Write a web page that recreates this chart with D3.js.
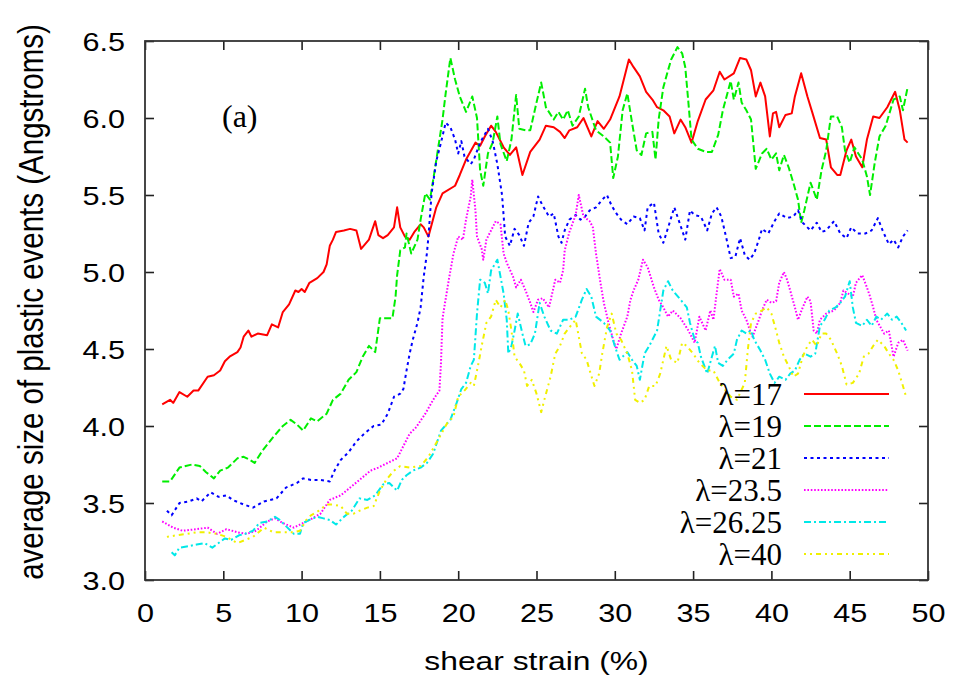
<!DOCTYPE html>
<html>
<head>
<meta charset="utf-8">
<script src="https://cdn.jsdelivr.net/npm/d3@7"></script>
<style>
  body { margin: 0; background: #fff; }
  svg { display: block; }
</style>
</head>
<body>
<svg id="chart" width="953" height="677"></svg>
<script>
// series data: [shear strain %, avg size (Angstroms)]
const lam17 = [[1.1,4.14],[1.6,4.17],[1.8,4.15],[2.2,4.22],[2.7,4.19],[3.1,4.23],[3.4,4.23],[4.0,4.32],[4.4,4.33],[4.8,4.36],
  [5.1,4.42],[5.4,4.45],[5.9,4.48],[6.1,4.51],[6.3,4.58],[6.6,4.62],[6.8,4.58],[7.2,4.60],[7.8,4.59],[8.1,4.66],
  [8.5,4.64],[8.8,4.74],[9.2,4.79],[9.6,4.88],[9.8,4.87],[10.0,4.89],[10.2,4.87],[10.5,4.93],[11.0,4.96],[11.4,5.00],
  [11.6,5.05],[11.8,5.17],[12.0,5.21],[12.2,5.26],[12.7,5.27],[13.1,5.28],[13.5,5.27],[13.8,5.15],[14.3,5.21],[14.7,5.33],
  [14.9,5.24],[15.2,5.22],[15.5,5.24],[15.9,5.29],[16.1,5.42],[16.3,5.29],[16.6,5.23],[16.9,5.21],[17.2,5.26],[17.6,5.31],
  [17.8,5.29],[18.1,5.23],[18.6,5.42],[19.0,5.51],[19.8,5.56],[20.1,5.63],[20.5,5.73],[21.1,5.84],[21.4,5.82],[21.7,5.88],
  [22.1,5.95],[22.4,5.91],[22.9,5.81],[23.3,5.76],[23.7,5.81],[24.1,5.63],[24.6,5.78],[25.2,5.86],[25.6,5.95],[26.1,5.94],
  [26.5,5.91],[26.8,5.87],[27.1,5.92],[27.6,5.94],[28.0,6.00],[28.5,5.88],[28.9,5.98],[29.3,5.93],[29.7,5.99],[30.3,6.14],
  [30.9,6.38],[31.2,6.33],[31.6,6.27],[32.0,6.17],[32.4,6.12],[32.7,6.07],[33.1,6.05],[33.5,6.01],[33.8,5.90],[34.2,5.99],
  [34.5,5.94],[34.9,5.84],[35.3,5.98],[35.8,6.12],[36.3,6.18],[36.7,6.30],[37.0,6.25],[37.6,6.29],[38.0,6.39],[38.4,6.38],
  [38.7,6.31],[39.0,6.14],[39.3,6.23],[39.6,6.14],[39.9,5.88],[40.1,6.03],[40.3,6.04],[40.5,5.94],[40.9,6.02],[41.3,6.03],
  [41.5,6.14],[41.9,6.29],[42.3,6.14],[42.6,6.04],[43.1,5.87],[43.5,5.86],[43.8,5.68],[44.2,5.63],[44.4,5.63],[44.8,5.79],
  [45.1,5.86],[45.4,5.75],[45.8,5.68],[46.1,5.86],[46.5,6.01],[46.9,6.00],[47.4,6.07],[47.9,6.17],[48.2,6.05],[48.5,5.86],[48.7,5.84]];

const lam19 = [[1.1,3.64],[1.6,3.64],[2.2,3.73],[2.6,3.74],[3.0,3.75],[3.5,3.74],[3.9,3.70],[4.4,3.66],[4.8,3.71],[5.3,3.73],
  [5.9,3.79],[6.3,3.80],[6.7,3.78],[7.0,3.76],[7.5,3.84],[8.2,3.93],[8.8,4.00],[9.3,4.04],[9.7,4.01],[10.1,3.97],
  [10.6,4.05],[11.0,4.03],[11.6,4.08],[12.0,4.17],[12.5,4.21],[13.0,4.30],[13.5,4.35],[13.9,4.45],[14.3,4.52],[14.7,4.48],
  [15.0,4.70],[15.4,4.70],[15.8,4.70],[16.0,4.84],[16.1,4.98],[16.3,5.14],[16.6,5.16],[16.7,5.25],[17.0,5.12],[17.4,5.21],
  [17.6,5.34],[17.9,5.51],[18.2,5.47],[18.5,5.66],[19.0,5.99],[19.2,6.16],[19.5,6.39],[19.8,6.25],[20.1,6.14],[20.5,6.04],
  [20.9,6.14],[21.2,6.00],[21.4,5.66],[21.6,5.56],[21.9,5.77],[22.2,5.84],[22.5,6.01],[22.7,5.83],[23.1,5.72],[23.4,5.86],
  [23.7,6.15],[23.9,5.93],[24.3,5.92],[24.6,5.92],[25.0,6.10],[25.3,6.23],[25.6,6.07],[26.1,5.99],[26.4,6.04],[26.7,5.99],
  [27.0,6.05],[27.3,5.95],[27.7,6.01],[28.1,6.19],[28.3,6.07],[28.5,6.01],[28.8,5.92],[29.3,5.88],[29.7,5.84],[29.9,5.61],
  [30.2,5.75],[30.5,6.05],[30.8,6.16],[31.1,5.97],[31.4,5.79],[31.7,5.76],[32.0,5.90],[32.4,5.91],[32.6,5.73],[32.8,5.99],
  [33.1,6.20],[33.4,6.31],[33.6,6.38],[34.0,6.46],[34.3,6.42],[34.5,6.33],[34.7,6.10],[34.9,5.86],[35.3,5.80],[35.8,5.78],
  [36.2,5.78],[36.6,5.89],[36.9,6.05],[37.4,6.24],[37.6,6.12],[37.9,6.23],[38.1,6.10],[38.4,6.05],[38.7,5.99],[39.0,5.67],
  [39.4,5.77],[39.7,5.80],[40.0,5.73],[40.3,5.77],[40.5,5.66],[40.8,5.76],[41.1,5.68],[41.4,5.58],[41.7,5.47],[41.9,5.32],
  [42.1,5.40],[42.5,5.58],[42.9,5.47],[43.2,5.66],[43.5,5.79],[43.8,6.01],[44.2,6.01],[44.5,5.94],[44.7,5.79],[45.0,5.71],
  [45.3,5.81],[45.8,5.73],[46.1,5.62],[46.3,5.50],[46.6,5.71],[46.9,5.88],[47.3,5.95],[47.8,6.12],[48.2,6.14],[48.4,6.05],[48.7,6.20]];

const lam21 = [[1.4,3.45],[1.7,3.42],[2.2,3.50],[2.8,3.51],[3.3,3.53],[3.6,3.51],[4.2,3.57],[4.7,3.54],[5.2,3.55],[5.6,3.52],
  [6.3,3.49],[6.9,3.47],[7.6,3.51],[8.4,3.53],[9.0,3.60],[9.7,3.63],[10.1,3.66],[10.6,3.65],[11.2,3.65],[11.8,3.64],
  [12.1,3.71],[12.5,3.78],[13.0,3.83],[13.5,3.90],[14.0,3.95],[14.6,4.00],[15.1,4.01],[15.5,4.08],[15.9,4.19],[16.3,4.21],
  [16.5,4.24],[16.7,4.36],[16.9,4.47],[17.1,4.56],[17.4,4.67],[17.6,4.77],[17.8,4.97],[18.0,5.12],[18.1,5.23],[18.3,5.51],
  [18.6,5.72],[18.9,5.84],[19.2,5.97],[19.5,5.94],[19.8,5.86],[20.0,5.77],[20.2,5.85],[20.4,5.75],[20.8,5.70],[21.0,5.73],
  [21.4,5.84],[21.9,5.93],[22.2,5.85],[22.5,5.70],[22.8,5.50],[23.0,5.23],[23.3,5.17],[23.6,5.28],[23.9,5.24],[24.2,5.17],
  [24.5,5.32],[24.8,5.36],[25.1,5.49],[25.4,5.43],[25.8,5.36],[26.1,5.38],[26.4,5.23],[26.6,5.19],[26.8,5.27],[27.1,5.34],
  [27.5,5.37],[27.8,5.34],[28.1,5.36],[28.4,5.40],[28.8,5.42],[29.2,5.47],[29.5,5.50],[29.8,5.43],[30.1,5.38],[30.4,5.34],
  [30.8,5.31],[31.2,5.36],[31.6,5.35],[31.9,5.27],[32.1,5.42],[32.5,5.45],[32.8,5.25],[33.1,5.19],[33.5,5.32],[33.8,5.42],
  [34.2,5.30],[34.5,5.21],[34.8,5.40],[35.1,5.37],[35.5,5.36],[35.9,5.27],[36.2,5.38],[36.5,5.42],[36.8,5.36],[37.1,5.23],
  [37.4,5.09],[37.7,5.10],[38.0,5.22],[38.3,5.11],[38.6,5.08],[38.9,5.12],[39.2,5.21],[39.4,5.28],[39.8,5.25],[40.2,5.33],
  [40.5,5.38],[41.0,5.35],[41.4,5.36],[41.7,5.40],[42.0,5.32],[42.5,5.27],[42.9,5.32],[43.2,5.26],[43.5,5.27],[44.0,5.33],
  [44.4,5.25],[44.8,5.22],[45.1,5.29],[45.5,5.25],[46.0,5.25],[46.4,5.27],[46.8,5.35],[47.1,5.27],[47.5,5.18],[47.8,5.21],
  [48.1,5.16],[48.4,5.23],[48.7,5.27]];

const lam23_5 = [[1.1,3.38],[1.8,3.34],[2.4,3.32],[3.3,3.33],[4.0,3.34],[4.6,3.30],[5.2,3.33],[5.9,3.31],[6.5,3.30],[7.1,3.32],
  [7.8,3.38],[8.3,3.40],[8.8,3.37],[9.5,3.34],[9.9,3.36],[10.5,3.39],[11.2,3.43],[11.8,3.52],[12.5,3.55],[13.1,3.60],
  [13.7,3.65],[14.4,3.71],[14.9,3.73],[15.5,3.76],[16.1,3.79],[16.5,3.87],[16.9,3.95],[17.3,3.99],[17.9,4.08],[18.4,4.17],
  [18.8,4.23],[18.9,4.41],[19.0,4.70],[19.4,4.95],[19.7,5.12],[20.0,5.23],[20.3,5.21],[20.5,5.34],[20.8,5.49],[20.9,5.60],
  [21.1,5.40],[21.2,5.23],[21.5,5.15],[21.6,5.08],[21.8,5.21],[22.1,5.27],[22.4,5.33],[22.7,5.31],[22.9,5.12],[23.1,5.06],
  [23.5,4.97],[23.7,4.90],[24.0,4.95],[24.3,4.88],[24.6,4.80],[24.8,4.74],[25.1,4.82],[25.4,4.83],[25.8,4.77],[26.2,4.95],
  [26.5,4.93],[26.7,5.01],[26.8,5.14],[27.1,5.26],[27.5,5.37],[27.7,5.50],[28.0,5.36],[28.4,5.33],[28.6,5.29],[28.8,5.12],
  [29.1,4.92],[29.3,4.80],[29.6,4.67],[29.9,4.56],[30.1,4.50],[30.4,4.60],[30.8,4.71],[31.0,4.82],[31.2,4.88],[31.5,4.95],
  [31.8,5.08],[32.1,5.03],[32.5,4.90],[32.8,4.82],[33.1,4.77],[33.4,4.71],[33.7,4.75],[34.2,4.70],[34.7,4.62],[35.1,4.54],
  [35.4,4.71],[35.8,4.62],[36.1,4.75],[36.3,4.69],[36.5,4.86],[36.7,5.02],[37.0,4.95],[37.4,4.95],[37.6,4.84],[37.9,4.86],
  [38.1,4.75],[38.4,4.69],[38.7,4.60],[38.8,4.58],[39.2,4.69],[39.4,4.75],[39.7,4.82],[40.0,4.80],[40.3,4.81],[40.5,4.93],
  [40.8,5.00],[41.0,4.95],[41.2,4.88],[41.5,4.77],[41.7,4.69],[42.0,4.77],[42.3,4.84],[42.5,4.81],[42.7,4.62],[42.9,4.60],
  [43.1,4.69],[43.5,4.73],[44.0,4.75],[44.4,4.80],[44.6,4.88],[44.9,4.86],[45.2,4.84],[45.4,4.93],[45.8,4.98],[46.1,4.90],
  [46.3,4.84],[46.5,4.77],[46.7,4.69],[47.2,4.60],[47.5,4.62],[47.8,4.45],[48.1,4.54],[48.4,4.56],[48.7,4.49]];

const lam26_25 = [[1.7,3.18],[1.9,3.16],[2.2,3.21],[2.8,3.22],[3.3,3.23],[3.8,3.24],[4.3,3.21],[4.7,3.24],[5.1,3.27],[5.5,3.26],
  [6.0,3.29],[6.4,3.30],[6.9,3.32],[7.3,3.37],[7.8,3.38],[8.3,3.41],[8.6,3.39],[9.0,3.35],[9.5,3.30],[9.9,3.30],
  [10.1,3.37],[10.5,3.39],[11.0,3.41],[11.4,3.40],[11.8,3.39],[12.2,3.36],[12.7,3.41],[13.2,3.45],[13.7,3.53],[14.2,3.52],
  [14.7,3.55],[15.2,3.62],[15.6,3.63],[16.1,3.58],[16.4,3.65],[16.7,3.68],[17.1,3.71],[17.6,3.73],[18.0,3.76],[18.4,3.82],
  [18.9,3.97],[19.5,4.04],[19.9,4.15],[20.2,4.24],[20.5,4.28],[20.8,4.39],[21.0,4.43],[21.2,4.73],[21.4,4.95],[21.7,4.93],
  [21.9,4.86],[22.1,5.01],[22.5,5.08],[22.7,4.97],[22.9,4.86],[23.1,4.69],[23.2,4.47],[23.4,4.52],[23.6,4.62],[23.8,4.73],
  [24.1,4.60],[24.3,4.52],[24.6,4.53],[24.9,4.60],[25.2,4.80],[25.5,4.71],[25.9,4.62],[26.3,4.60],[26.7,4.69],[27.1,4.69],
  [27.5,4.71],[27.9,4.82],[28.2,4.89],[28.5,4.84],[28.8,4.71],[29.3,4.67],[29.7,4.62],[30.0,4.52],[30.3,4.43],[30.8,4.48],
  [31.1,4.43],[31.4,4.39],[31.6,4.30],[31.9,4.47],[32.2,4.52],[32.7,4.62],[33.1,4.88],[33.4,4.94],[33.7,4.88],[34.2,4.82],
  [34.6,4.77],[34.8,4.67],[35.1,4.56],[35.3,4.54],[35.5,4.45],[35.9,4.34],[36.2,4.45],[36.4,4.52],[36.6,4.41],[36.9,4.39],
  [37.2,4.43],[37.6,4.47],[37.8,4.56],[38.1,4.62],[38.4,4.60],[38.7,4.62],[38.9,4.56],[39.3,4.49],[39.6,4.43],[39.9,4.34],
  [40.2,4.28],[40.5,4.32],[40.9,4.30],[41.2,4.34],[41.5,4.36],[41.8,4.43],[42.1,4.47],[42.5,4.45],[42.8,4.47],[43.1,4.65],
  [43.4,4.69],[43.7,4.75],[44.1,4.77],[44.4,4.80],[44.7,4.84],[45.0,4.94],[45.2,4.77],[45.4,4.67],[45.8,4.65],[46.1,4.69],
  [46.4,4.65],[46.7,4.71],[47.0,4.69],[47.4,4.73],[47.7,4.69],[48.0,4.71],[48.3,4.67],[48.6,4.62]];

const lam40 = [[1.4,3.28],[2.0,3.29],[2.7,3.30],[3.3,3.31],[3.9,3.31],[4.6,3.30],[5.2,3.28],[5.9,3.24],[6.4,3.26],[6.9,3.28],
  [7.6,3.34],[8.2,3.31],[8.8,3.31],[9.5,3.31],[9.9,3.32],[10.3,3.39],[10.6,3.42],[11.1,3.45],[11.6,3.49],[12.0,3.49],
  [12.5,3.48],[12.9,3.43],[13.3,3.43],[13.7,3.45],[14.2,3.47],[14.6,3.48],[15.0,3.58],[15.4,3.65],[15.9,3.71],[16.3,3.74],
  [16.9,3.73],[17.6,3.74],[18.1,3.80],[18.6,3.89],[19.3,4.02],[19.7,4.06],[20.0,4.19],[20.4,4.23],[20.8,4.28],[21.0,4.26],
  [21.3,4.41],[21.5,4.52],[21.8,4.67],[22.1,4.71],[22.4,4.82],[22.7,4.77],[23.0,4.82],[23.2,4.75],[23.4,4.62],[23.6,4.45],
  [23.9,4.41],[24.2,4.36],[24.4,4.26],[24.7,4.30],[25.0,4.21],[25.3,4.09],[25.5,4.17],[25.9,4.32],[26.2,4.47],[26.5,4.52],
  [26.8,4.60],[27.1,4.64],[27.5,4.69],[27.7,4.58],[27.9,4.47],[28.2,4.43],[28.4,4.36],[28.7,4.26],[29.0,4.34],[29.2,4.47],
  [29.5,4.64],[29.8,4.73],[30.1,4.60],[30.4,4.56],[30.8,4.47],[31.1,4.36],[31.3,4.17],[31.6,4.15],[31.9,4.17],[32.2,4.26],
  [32.6,4.26],[32.9,4.34],[33.3,4.52],[33.6,4.43],[34.0,4.41],[34.3,4.54],[34.6,4.52],[35.0,4.47],[35.4,4.41],[35.9,4.36],
  [36.3,4.36],[36.7,4.28],[37.4,4.19],[37.8,4.17],[38.3,4.28],[38.5,4.50],[38.7,4.67],[39.0,4.73],[39.4,4.75],[39.7,4.77],
  [40.0,4.73],[40.3,4.62],[40.5,4.54],[40.8,4.45],[41.1,4.39],[41.4,4.32],[41.7,4.34],[42.0,4.45],[42.3,4.52],[42.6,4.56],
  [42.9,4.52],[43.2,4.60],[43.5,4.60],[43.8,4.56],[44.2,4.47],[44.5,4.39],[44.8,4.27],[45.2,4.28],[45.6,4.34],[45.9,4.45],
  [46.2,4.47],[46.5,4.52],[46.8,4.56],[47.2,4.52],[47.5,4.47],[47.8,4.43],[48.1,4.36],[48.4,4.26],[48.6,4.19]];

const seriesLabels = ['λ=17', 'λ=19', 'λ=21', 'λ=23.5', 'λ=26.25', 'λ=40'];
const seriesValues = [lam17, lam19, lam21, lam23_5, lam26_25, lam40];
const xTickValues = [0, 5, 10, 15, 20, 25, 30, 35, 40, 45, 50];
const yTickValues = [3.0, 3.5, 4.0, 4.5, 5.0, 5.5, 6.0, 6.5];

// styles (gnuplot-like line types)
const lineColors = ['#ff0000', '#00ee00', '#0000ff', '#ff00ff', '#00e8e8', '#f0f000'];
const lineDashes = [null, '7,3', '3,3.5', '1.6,1.8', '7,3,2,3', '2,4,2,4,5,4'];

const svg = d3.select('#chart');
const plotLeft = 145, plotRight = 928, plotTop = 41, plotBottom = 580;

svg.append('rect').attr('width', 953).attr('height', 677).attr('fill', '#fff');

const xScale = d3.scaleLinear().domain([0, 50]).range([plotLeft, plotRight]);
const yScale = d3.scaleLinear().domain([3.0, 6.5]).range([plotBottom, plotTop]);

const tickFont = '"Liberation Sans", Arial, Helvetica, sans-serif';

// bottom axis with labels, ticks pointing inward
let gX = svg.append('g')
  .attr('transform', `translate(0, ${plotBottom})`)
  .call(d3.axisBottom(xScale).tickValues(xTickValues).tickSize(-9).tickPadding(24).tickFormat(d3.format('d')));
gX.selectAll('text')
  .attr('transform', 'scale(1.2,1)')
  .style('font-family', tickFont)
  .style('font-size', '25.5px')
  .attr('fill', '#000');

// left axis
let gY = svg.append('g')
  .attr('transform', `translate(${plotLeft}, 0)`)
  .call(d3.axisLeft(yScale).tickValues(yTickValues).tickSize(-9).tickPadding(16.7).tickFormat(d3.format('.1f')));
gY.selectAll('text')
  .attr('transform', 'scale(1.2,1)')
  .attr('dy', '0.36em')
  .style('font-family', tickFont)
  .style('font-size', '25.5px')
  .attr('fill', '#000');

// mirror ticks top and right
let gTop = svg.append('g')
  .attr('transform', `translate(0, ${plotTop})`)
  .call(d3.axisTop(xScale).tickValues(xTickValues).tickSize(-9).tickFormat(''));
let gRight = svg.append('g')
  .attr('transform', `translate(${plotRight}, 0)`)
  .call(d3.axisRight(yScale).tickValues(yTickValues).tickSize(-9).tickFormat(''));

[gX, gY, gTop, gRight].forEach(g => {
  g.select('.domain').remove();
  g.selectAll('line').attr('stroke', '#222').attr('stroke-width', 1.6);
});

// clip lines to plot box
svg.append('clipPath').attr('id', 'plotclip')
  .append('rect').attr('x', plotLeft).attr('y', plotTop)
  .attr('width', plotRight - plotLeft).attr('height', plotBottom - plotTop);

const lineGen = d3.line()
  .x(d => xScale(d[0]))
  .y(d => yScale(d[1]));

svg.append('g').attr('clip-path', 'url(#plotclip)')
  .selectAll('path')
  .data(seriesValues)
  .enter().append('path')
  .attr('d', d => lineGen(d))
  .attr('fill', 'none')
  .attr('stroke', (d, i) => lineColors[i])
  .attr('stroke-width', 2)
  .attr('stroke-linejoin', 'round')
  .attr('stroke-dasharray', (d, i) => lineDashes[i]);

// frame
svg.append('rect')
  .attr('x', plotLeft).attr('y', plotTop)
  .attr('width', plotRight - plotLeft).attr('height', plotBottom - plotTop)
  .attr('fill', 'none').attr('stroke', '#333').attr('stroke-width', 1.8);

// legend
const legend = svg.append('g');
seriesLabels.forEach((lab, i) => {
  let by = 405 + i * 32;
  legend.append('text')
    .attr('x', 782).attr('y', by)
    .attr('text-anchor', 'end')
    .style('font-family', '"Liberation Serif", "Times New Roman", serif')
    .style('font-size', '31px')
    .text(lab);
  legend.append('line')
    .attr('x1', 804).attr('x2', 889)
    .attr('y1', by - 11).attr('y2', by - 11)
    .attr('stroke', lineColors[i])
    .attr('stroke-width', 2)
    .attr('stroke-dasharray', lineDashes[i]);
});

// panel tag
svg.append('text')
  .attr('x', 222).attr('y', 127)
  .style('font-family', '"Liberation Serif", "Times New Roman", serif')
  .style('font-size', '32px')
  .text('(a)');

// axis titles
svg.append('text')
  .attr('transform', `translate(${(plotLeft + plotRight) / 2}, 670) scale(1.2,1)`)
  .attr('text-anchor', 'middle')
  .style('font-family', tickFont)
  .style('font-size', '26.5px')
  .text('shear strain (%)');

svg.append('text')
  .attr('transform', 'translate(43, 302) rotate(-90) scale(1,1.2)')
  .attr('text-anchor', 'middle')
  .style('font-family', tickFont)
  .style('font-size', '29.5px')
  .text('average size of plastic events (Angstroms)');
</script>
</body>
</html>
